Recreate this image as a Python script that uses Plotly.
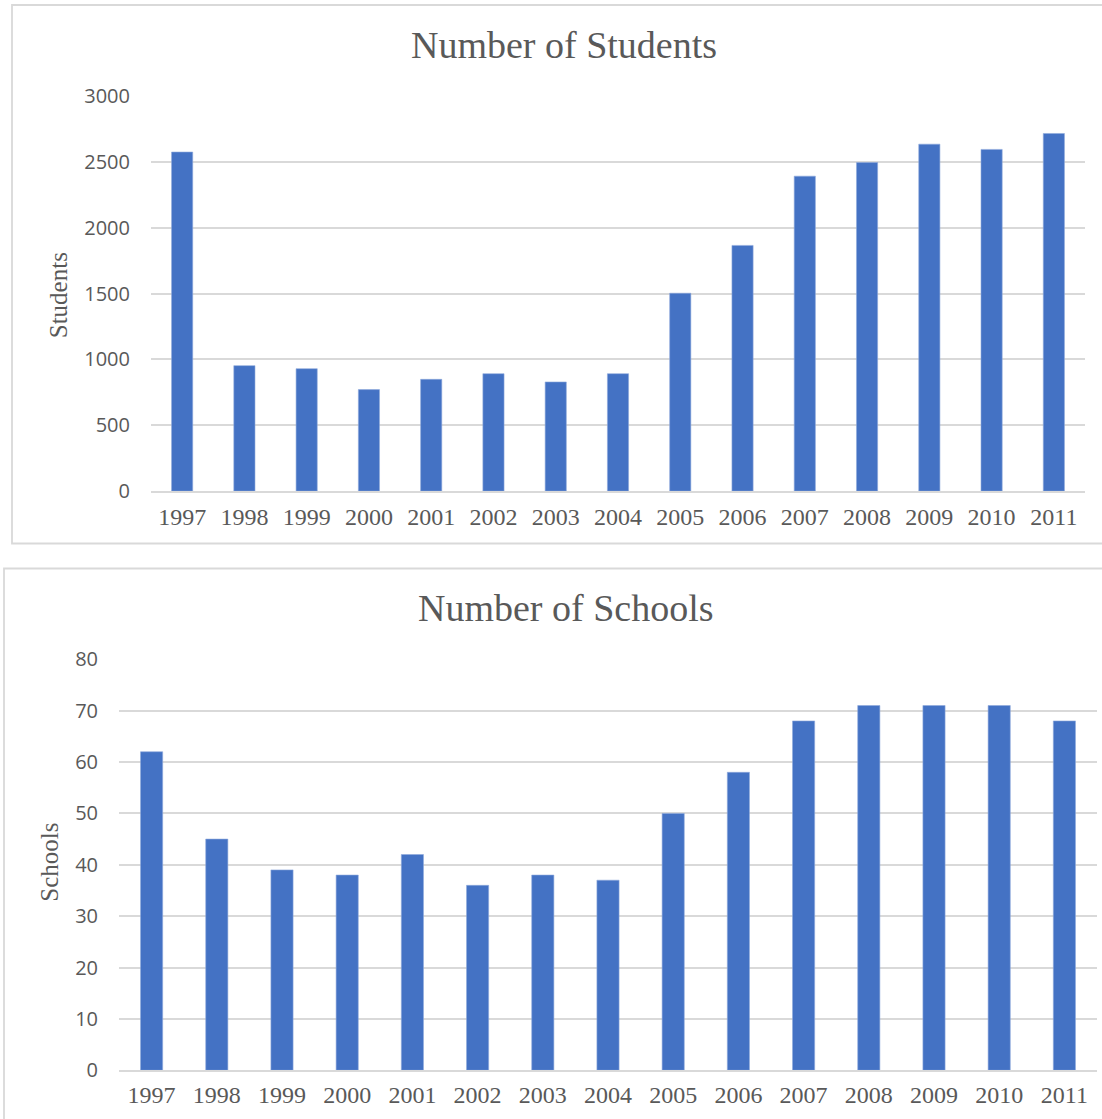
import plotly.graph_objects as go

years = [str(y) for y in range(1997, 2012)]
students = [2575, 953, 930, 771, 849, 892, 829, 892, 1503, 1866, 2392, 2495, 2635, 2595, 2716]
schools = [62, 45, 39, 38, 42, 36, 38, 37, 50, 58, 68, 71, 71, 71, 68]
student_ticks = [0, 500, 1000, 1500, 2000, 2500, 3000]
school_ticks = [0, 10, 20, 30, 40, 50, 60, 70, 80]

W, H = 1102, 1119
# effective rendered paper height / vertical offset observed in the viewer
HEFF, YOFF = 1091.0, 14.0
def px(x):
    return x / W
def py(y):
    return 1 - (y - YOFF) / HEFF

BAR = "#4472C4"
GRID = "#D9D9D9"
TXT = "#595959"
SERIF = "Liberation Serif, Times New Roman, serif"
SANS = "Open Sans, Liberation Sans, sans-serif"

fig = go.Figure()
fig.add_trace(go.Bar(x=years, y=students, marker=dict(color=BAR, line=dict(color="#8FAADC", width=0.6)),
                     xaxis="x", yaxis="y", showlegend=False))
fig.add_trace(go.Bar(x=years, y=schools, marker=dict(color=BAR, line=dict(color="#8FAADC", width=0.6)),
                     xaxis="x2", yaxis="y2", showlegend=False))

common_x = dict(type="category", showgrid=False, zeroline=False, showline=True, linecolor=GRID, linewidth=1.5,
                ticks="", tickfont=dict(family=SERIF, size=24, color=TXT))
common_y = dict(showgrid=True, gridcolor=GRID, gridwidth=1.5, zeroline=False, showline=False, ticks="",
                tickfont=dict(family=SANS, size=20, color=TXT), ticklabelstandoff=20)

fig.update_layout(
    width=W, height=H, margin=dict(l=0, r=0, t=0, b=0),
    paper_bgcolor="white", plot_bgcolor="white", bargap=0.66,
    xaxis=dict(domain=[px(151), px(1085)], anchor="y", ticklabelstandoff=3, **common_x),
    yaxis=dict(domain=[py(490.7), py(96)], anchor="x", range=[0, 3000], tickvals=student_ticks, **common_y),
    xaxis2=dict(domain=[px(119), px(1097)], anchor="y2", ticklabelstandoff=2, **common_x),
    yaxis2=dict(domain=[py(1069.3), py(658.7)], anchor="x2", range=[0, 80], tickvals=school_ticks, **common_y),
    shapes=[
        dict(type="rect", xref="paper", yref="paper", x0=px(12), x1=1.05, y0=py(543), y1=py(5),
             line=dict(color=GRID, width=1.8), fillcolor="rgba(0,0,0,0)", layer="below"),
        dict(type="rect", xref="paper", yref="paper", x0=px(4), x1=1.05, y0=-0.05, y1=py(568),
             line=dict(color=GRID, width=1.8), fillcolor="rgba(0,0,0,0)", layer="below"),
    ],
    annotations=[
        dict(text="Number of Students", x=px(564), y=py(45), xref="paper", yref="paper", showarrow=False,
             font=dict(family=SERIF, size=38, color=TXT), xanchor="center", yanchor="middle"),
        dict(text="Number of Schools", x=px(566), y=py(607), xref="paper", yref="paper", showarrow=False,
             font=dict(family=SERIF, size=38, color=TXT), xanchor="center", yanchor="middle"),
        dict(text="Students", x=px(58), y=py(295), xref="paper", yref="paper", showarrow=False, textangle=-90,
             font=dict(family=SERIF, size=25, color=TXT), xanchor="center", yanchor="middle"),
        dict(text="Schools", x=px(50), y=py(862), xref="paper", yref="paper", showarrow=False, textangle=-90,
             font=dict(family=SERIF, size=25, color=TXT), xanchor="center", yanchor="middle"),
    ],
)

fig.write_html("out.html", config={"displayModeBar": False},
               post_script="document.body.style.margin='0';document.body.style.overflow='hidden';")
